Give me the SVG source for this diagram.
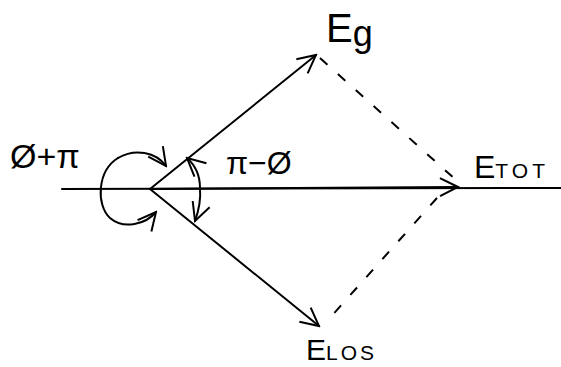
<svg xmlns="http://www.w3.org/2000/svg" width="561" height="367" viewBox="0 0 561 367">
<style>
.ln{stroke:#000;stroke-width:2;fill:none;stroke-linecap:round}
.ds{stroke:#000;stroke-width:2;fill:none;stroke-dasharray:10 14}
.t{font-family:"Liberation Sans",Arial,sans-serif;fill:#000}
</style>
<defs>
<marker id="ah" viewBox="0 0 22 22" refX="20" refY="11" markerWidth="22" markerHeight="22" markerUnits="userSpaceOnUse" orient="auto">
<path d="M2,2 L20,11 L2,20" fill="none" stroke="#000" stroke-width="2"/>
</marker>
</defs>
<g id="connectors">
<line class="ln" x1="62" y1="189" x2="561" y2="188"/>
<line class="ln" x1="150" y1="189" x2="458" y2="187" marker-end="url(#ah)"/>
<line class="ln" x1="150" y1="189" x2="316" y2="55" marker-end="url(#ah)"/>
<line class="ln" x1="150" y1="189" x2="319" y2="326" marker-end="url(#ah)"/>
<line class="ds" x1="320" y1="58" x2="456" y2="180"/>
<line class="ds" x1="437" y1="198" x2="328" y2="320"/>
<path class="ln" d="M118,158 C135,148 156,152 166,166" marker-end="url(#ah)"/>
<path class="ln" d="M118,158 C97,171 96,205 110,218 C124,230 146,224 156,212" marker-end="url(#ah)"/>
<path class="ln" d="M200,188 C200,175 196,166 187,158" marker-end="url(#ah)"/>
<path class="ln" d="M200,188 C201,200 199,210 195,221" marker-end="url(#ah)"/>
</g>
<g id="Eg"><text class="t" x="326" y="42" font-size="40">E<tspan font-size="36" dy="4">g</tspan></text></g>
<g id="Etot"><text class="t" x="474" y="178" font-size="32">E<tspan font-size="21" letter-spacing="4">TOT</tspan></text></g>
<g id="Elos"><text class="t" x="306" y="360" font-size="30">E<tspan font-size="21" letter-spacing="3">LOS</tspan></text></g>
<g id="phiPlusPi"><text class="t" x="10" y="168" font-size="34">Ø+π</text></g>
<g id="piMinusPhi"><text class="t" x="226" y="174" font-size="32">π−Ø</text></g>
</svg>
